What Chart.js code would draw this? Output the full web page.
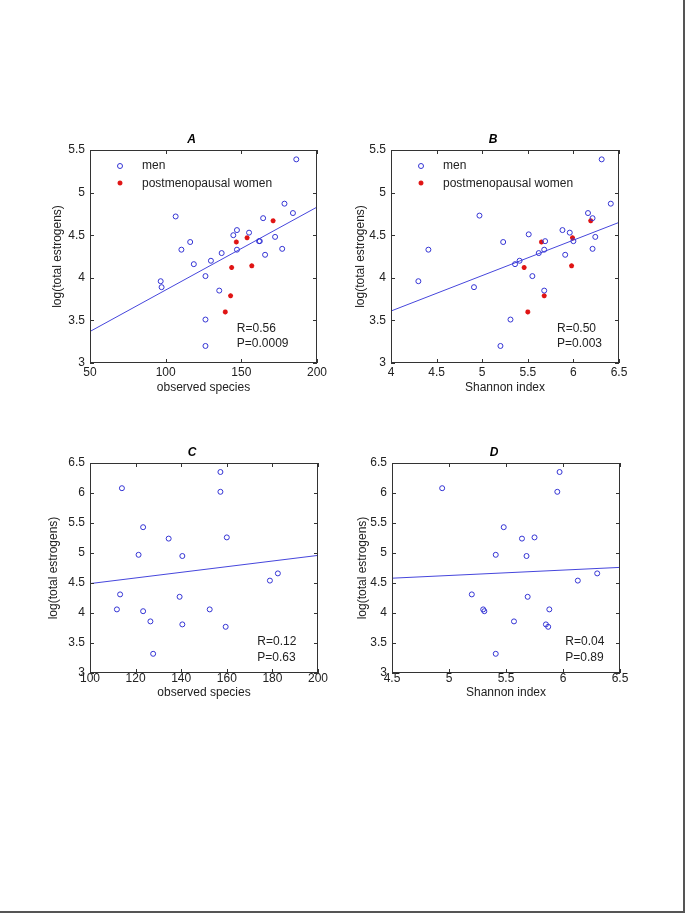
<!DOCTYPE html>
<html>
<head>
<meta charset="utf-8">
<title>log(total estrogens) vs observed species / Shannon index</title>
<script src="https://cdn.jsdelivr.net/npm/chart.js@4.4.1/dist/chart.umd.min.js"></script>
<style>
html, body { margin: 0; padding: 0; background: #fff; }
#page {
    position: relative;
    width: 683px;
    height: 911px;
    border-right: 2px solid #555;
    border-bottom: 2px solid #555;
}
canvas { position: absolute; }
#panelA { left: 30px; top: 120px; }
#panelB { left: 331px; top: 120px; }
#panelC { left: 30px; top: 433px; }
#panelD { left: 332px; top: 433px; }
</style>
</head>
<body>
<div id="page">
    <canvas id="panelA" width="307" height="283"></canvas>
    <canvas id="panelB" width="308" height="283"></canvas>
    <canvas id="panelC" width="308" height="280"></canvas>
    <canvas id="panelD" width="308" height="280"></canvas>
</div>

<script>
///////////////////////Data//////////////////////////

//Panel A - observed species
const speciesMen = [186.3, 178.5, 184.1, 164.4, 106.6, 147.1, 144.7, 155.1, 161.7, 162.2, 172.3, 147.1, 116.2,
    110.4, 165.7, 177.0, 137.0, 129.9, 118.6, 126.3, 96.7, 97.3, 135.4, 126.3, 126.3];
const estrogenMenA = [5.39, 4.87, 4.76, 4.70, 4.72, 4.56, 4.50, 4.53, 4.43, 4.43, 4.48, 4.33, 4.42,
    4.33, 4.27, 4.34, 4.29, 4.20, 4.16, 4.02, 3.96, 3.89, 3.85, 3.51, 3.20];
const speciesWomen = [146.7, 153.8, 171.0, 143.6, 156.9, 142.9, 139.4];
const estrogenWomenA = [4.42, 4.47, 4.67, 4.12, 4.14, 3.79, 3.60];
const fitA_x = [50, 200];
const fitA_y = [3.37, 4.83];

//Panel B - Shannon index
const shannonMen = [4.97, 6.31, 6.41, 6.16, 6.21, 6.24, 6.21, 5.88, 5.96, 6.00, 5.91, 5.51, 5.69,
    5.68, 5.62, 5.23, 4.41, 5.41, 5.36, 5.55, 4.30, 4.91, 5.68, 5.31, 5.20];
const estrogenMenB = [4.73, 5.39, 4.87, 4.76, 4.70, 4.48, 4.34, 4.56, 4.53, 4.43, 4.27, 4.51, 4.43,
    4.33, 4.29, 4.42, 4.33, 4.20, 4.16, 4.02, 3.96, 3.89, 3.85, 3.51, 3.20];
const shannonWomen = [5.65, 5.99, 6.19, 5.46, 5.98, 5.68, 5.50];
const estrogenWomenB = [4.42, 4.47, 4.67, 4.12, 4.14, 3.79, 3.60];
const fitB_x = [4, 6.5];
const fitB_y = [3.61, 4.65];

//Panel C - observed species
const speciesC = [114.0, 157.2, 157.2, 123.3, 134.5, 160.0, 121.3, 140.5, 178.9, 182.4,
    113.2, 139.3, 111.8, 123.3, 152.5, 126.5, 140.5, 159.5, 127.7];
const estrogenC = [6.08, 6.35, 6.02, 5.43, 5.24, 5.26, 4.97, 4.95, 4.54, 4.66,
    4.31, 4.27, 4.06, 4.03, 4.06, 3.86, 3.81, 3.77, 3.32];
const fitC_x = [100, 200];
const fitC_y = [4.49, 4.96];

//Panel D - Shannon index
const shannonD = [4.94, 5.97, 5.95, 5.48, 5.64, 5.75, 5.41, 5.68, 6.13, 6.30,
    5.20, 5.69, 5.30, 5.31, 5.88, 5.57, 5.85, 5.87, 5.41];
const estrogenD = [6.08, 6.35, 6.02, 5.43, 5.24, 5.26, 4.97, 4.95, 4.54, 4.66,
    4.31, 4.27, 4.06, 4.03, 4.06, 3.86, 3.81, 3.77, 3.32];
const fitD_x = [4.5, 6.5];
const fitD_y = [4.58, 4.76];

//Labels
const yLabel = 'log(total estrogens)';
const legendLabels = ['men', 'postmenopausal women'];
const statsA = ['R=0.56', 'P=0.0009'];
const statsB = ['R=0.50', 'P=0.003'];
const statsC = ['R=0.12', 'P=0.63'];
const statsD = ['R=0.04', 'P=0.89'];

//Wraps the page to force it to load last
document.addEventListener('DOMContentLoaded', () => {

const blue = '#3434d4';
const red = '#e01414';
const fontFamily = '"Liberation Sans", Arial, sans-serif';

//zip two arrays into scatter points
const toPoints = (xs, ys) => xs.map((x, i) => ({ x: x, y: ys[i] }));

//matlab style tick text: 5 not 5.0
const tickText = v => String(Math.round(v * 100) / 100);

function drawCircle(ctx, x, y) {
    ctx.beginPath();
    ctx.arc(x, y, 2.5, 0, Math.PI * 2);
    ctx.strokeStyle = blue;
    ctx.lineWidth = 1;
    ctx.stroke();
}

function drawStar(ctx, x, y) {
    const r = 2.5;
    ctx.beginPath();
    ctx.moveTo(x - r, y); ctx.lineTo(x + r, y);
    ctx.moveTo(x, y - r); ctx.lineTo(x, y + r);
    ctx.moveTo(x - r * 0.7, y - r * 0.7); ctx.lineTo(x + r * 0.7, y + r * 0.7);
    ctx.moveTo(x - r * 0.7, y + r * 0.7); ctx.lineTo(x + r * 0.7, y - r * 0.7);
    ctx.strokeStyle = red;
    ctx.lineWidth = 1.5;
    ctx.stroke();
}

//////////////////////Box, inner ticks, title, legend, R/P text////////////////////////
const matlabFrame = {
    id: 'matlabFrame',
    afterDraw(chart, args, opts) {
        const { ctx, chartArea: a, scales } = chart;
        ctx.save();

        //axes box
        ctx.strokeStyle = '#333';
        ctx.lineWidth = 1;
        ctx.strokeRect(a.left + 0.5, a.top + 0.5, a.width - 1, a.height - 1);

        //ticks pointing inward on all four sides
        ctx.beginPath();
        scales.x.ticks.forEach(t => {
            const px = Math.round(scales.x.getPixelForValue(t.value)) + 0.5;
            ctx.moveTo(px, a.bottom); ctx.lineTo(px, a.bottom - 4);
            ctx.moveTo(px, a.top); ctx.lineTo(px, a.top + 4);
        });
        scales.y.ticks.forEach(t => {
            const py = Math.round(scales.y.getPixelForValue(t.value)) + 0.5;
            ctx.moveTo(a.left, py); ctx.lineTo(a.left + 4, py);
            ctx.moveTo(a.right, py); ctx.lineTo(a.right - 4, py);
        });
        ctx.stroke();

        //panel letter
        ctx.fillStyle = '#000';
        ctx.font = 'italic bold 12px ' + fontFamily;
        ctx.textAlign = 'center';
        ctx.textBaseline = 'middle';
        ctx.fillText(opts.title, (a.left + a.right) / 2 - 12, a.top - 10);

        //legend inside the axes
        ctx.font = '12px ' + fontFamily;
        ctx.textAlign = 'left';
        ctx.fillStyle = '#222';
        if (opts.legend) {
            drawCircle(ctx, a.left + 30, a.top + 16);
            drawStar(ctx, a.left + 30, a.top + 33);
            ctx.fillStyle = '#222';
            ctx.fillText(legendLabels[0], a.left + 52, a.top + 16);
            ctx.fillText(legendLabels[1], a.left + 52, a.top + 34);
        }

        //R and P values, anchored in data coordinates
        const sx = scales.x.getPixelForValue(opts.statsAt[0]);
        opts.stats.forEach((s, i) => {
            ctx.fillText(s, sx, scales.y.getPixelForValue(opts.statsAt[1 + i]));
        });

        ctx.restore();
    }
};

//////////////////////////////Chart builder////////////////////////
function makePanel(canvasId, cfg) {
    const datasets = [];
    datasets.push({
        label: legendLabels[0],
        data: toPoints(cfg.menX, cfg.menY),
        pointStyle: 'circle',
        pointRadius: 2.5,
        pointBorderWidth: 1,
        borderColor: blue,
        backgroundColor: 'rgba(0,0,0,0)'
    });
    if (cfg.womenX) {
        datasets.push({
            label: legendLabels[1],
            data: toPoints(cfg.womenX, cfg.womenY),
            pointStyle: 'star',
            pointRadius: 2.5,
            pointBorderWidth: 1.5,
            borderColor: red,
            backgroundColor: red
        });
    }
    datasets.push({
        type: 'line',
        label: 'fit',
        data: toPoints(cfg.fitX, cfg.fitY),
        borderColor: '#4646dc',
        borderWidth: 1,
        pointRadius: 0,
        fill: false
    });

    const tickFont = { family: fontFamily, size: 12, lineHeight: 1 };
    const titleFont = { family: fontFamily, size: 12 };

    return new Chart(document.getElementById(canvasId), {
        type: 'scatter',
        data: { datasets: datasets },
        options: {
            responsive: false,
            animation: false,
            devicePixelRatio: 1,
            layout: { padding: { left: 0, top: 30, right: 20, bottom: 0 } },
            scales: {
                x: {
                    type: 'linear',
                    min: cfg.xMin,
                    max: cfg.xMax,
                    ticks: { stepSize: cfg.xStep, color: '#222', font: tickFont, padding: cfg.xTickPad, maxRotation: 0, autoSkip: false, callback: tickText },
                    grid: { display: false, drawTicks: false },
                    border: { display: false },
                    title: { display: true, text: cfg.xLabel, color: '#222', font: titleFont, padding: { top: 0, bottom: cfg.xTitlePad } },
                    afterFit: s => { s.height = 40; }
                },
                y: {
                    type: 'linear',
                    min: cfg.yMin,
                    max: cfg.yMax,
                    ticks: { stepSize: 0.5, color: '#222', font: tickFont, padding: 5, autoSkip: false, callback: tickText },
                    grid: { display: false, drawTicks: false },
                    border: { display: false },
                    title: { display: true, text: yLabel, color: '#222', font: titleFont, padding: { top: cfg.yTitlePad, bottom: 0 } },
                    afterFit: s => { s.width = 60; }
                }
            },
            plugins: {
                legend: { display: false },
                tooltip: { enabled: false },
                matlabFrame: { title: cfg.title, legend: !!cfg.womenX, stats: cfg.stats, statsAt: cfg.statsAt }
            }
        },
        plugins: [matlabFrame]
    });
}

//////////////////////////////Charts////////////////////////
let chartA = makePanel('panelA', {
    title: 'A', xLabel: 'observed species',
    menX: speciesMen, menY: estrogenMenA, womenX: speciesWomen, womenY: estrogenWomenA,
    fitX: fitA_x, fitY: fitA_y,
    xMin: 50, xMax: 200, xStep: 50, yMin: 3, yMax: 5.5,
    xTickPad: 4, xTitlePad: 8, yTitlePad: 20,
    stats: statsA, statsAt: [147, 3.40, 3.23]
});

let chartB = makePanel('panelB', {
    title: 'B', xLabel: 'Shannon index',
    menX: shannonMen, menY: estrogenMenB, womenX: shannonWomen, womenY: estrogenWomenB,
    fitX: fitB_x, fitY: fitB_y,
    xMin: 4, xMax: 6.5, xStep: 0.5, yMin: 3, yMax: 5.5,
    xTickPad: 4, xTitlePad: 8, yTitlePad: 22,
    stats: statsB, statsAt: [5.82, 3.40, 3.23]
});

let chartC = makePanel('panelC', {
    title: 'C', xLabel: 'observed species',
    menX: speciesC, menY: estrogenC,
    fitX: fitC_x, fitY: fitC_y,
    xMin: 100, xMax: 200, xStep: 20, yMin: 3, yMax: 6.5,
    xTickPad: 0, xTitlePad: 13, yTitlePad: 16,
    stats: statsC, statsAt: [173.4, 3.53, 3.255]
});

let chartD = makePanel('panelD', {
    title: 'D', xLabel: 'Shannon index',
    menX: shannonD, menY: estrogenD,
    fitX: fitD_x, fitY: fitD_y,
    xMin: 4.5, xMax: 6.5, xStep: 0.5, yMin: 3, yMax: 6.5,
    xTickPad: 0, xTitlePad: 13, yTitlePad: 23,
    stats: statsD, statsAt: [6.02, 3.53, 3.255]
});

//End of wrap
});
</script>
</body>
</html>
